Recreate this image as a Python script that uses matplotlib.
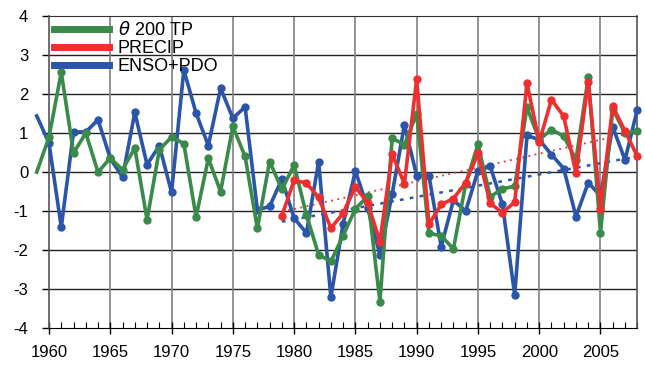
import numpy as np
import matplotlib.pyplot as plt
from matplotlib.ticker import MultipleLocator, FuncFormatter

plt.rcParams['font.family'] = ['Liberation Sans', 'DejaVu Sans']
plt.rcParams['axes.unicode_minus'] = False

years = np.arange(1959, 2009)

theta200 = [0.0, 0.90, 2.56, 0.49, 1.00, 0.0, 0.36, 0.06, 0.62, -1.22,
            0.57, 0.90, 0.73, -1.15, 0.35, -0.50, 1.17, 0.40, -1.44, 0.27,
            -0.44, 0.18, -1.09, -2.12, -2.29, -1.63, -0.94, -0.62, -3.32, 0.87,
            0.70, 1.50, -1.57, -1.63, -1.97, -0.30, 0.71, -0.63, -0.43, -0.36,
            1.66, 0.83, 1.09, 0.92, 0.32, 2.43, -1.55, 1.62, 0.99, 1.06]

enso_pdo = [1.44, 0.74, -1.41, 1.03, 1.03, 1.34, 0.35, -0.13, 1.53, 0.19,
            0.68, -0.52, 2.62, 1.51, 0.68, 2.15, 1.38, 1.67, -0.97, -0.88,
            -0.18, -1.18, -1.56, 0.26, -3.21, -1.32, 0.03, -0.92, -2.12, -0.56,
            1.21, -0.09, -0.09, -1.91, -0.72, -1.00, 0.03, 0.15, -0.83, -3.15,
            0.94, 0.83, 0.45, 0.09, -1.14, -0.27, -0.61, 1.16, 0.31, 1.60]

precip_years = np.arange(1979, 2009)
precip = [-1.12, -0.21, -0.28, -0.65, -1.44, -1.05, -0.38, -0.79, -1.78, 0.46,
          -0.30, 2.38, -1.34, -0.83, -0.68, -0.27, 0.48, -0.80, -1.04, -0.77,
          2.28, 0.77, 1.86, 1.43, -0.03, 2.32, -0.95, 1.69, 1.05, 0.41]

# linear trends 1979-2008 (end values)
trend_years = [1979, 2008]
precip_trend = [-1.02, 1.04]
enso_trend = [-1.27, 0.40]

green = '#3a8a4a'
red = '#ee2f2f'
blue = '#2a55a8'

fig = plt.figure(figsize=(6.45, 3.65), dpi=100)
ax = fig.add_axes([0.076, 0.101, 0.912, 0.855])

ax.set_xlim(1960, 2008)
ax.set_ylim(-4, 4)

# grid
for yv in range(-3, 4):
    ax.axhline(yv, color='#222222', lw=1.0, zorder=0)
for xv in range(1965, 2008, 5):
    ax.axvline(xv, color='#808080', lw=1.2, zorder=0)

ax.plot(trend_years, precip_trend, ls=(0, (1, 2.5)), color=red, lw=1.3, zorder=2)
ax.plot(trend_years, enso_trend, ls=(0, (1.5, 2.5)), color=blue, lw=1.8, zorder=2)

kw = dict(lw=2.6, marker='o', ms=5, clip_on=False, markevery=slice(1, None))
ax.plot(years, enso_pdo, color=blue, zorder=3, **kw)
ax.plot(years, theta200, color=green, zorder=4, **kw)
kw['markevery'] = None
ax.plot(precip_years, precip, color=red, zorder=5, **kw)

# legend
h1, = ax.plot([], [], color=green, lw=5)
h2, = ax.plot([], [], color=red, lw=5)
h3, = ax.plot([], [], color=blue, lw=5)
ax.legend([h1, h2, h3], [r'$\theta$ 200 TP', 'PRECIP', 'ENSO+PDO'],
          loc='upper left', frameon=False, fontsize=13, handlelength=3.0,
          handletextpad=0.5, labelspacing=0.05, borderaxespad=0.1,
          borderpad=0.2)

ax.xaxis.set_major_locator(MultipleLocator(5))
ax.xaxis.set_minor_locator(MultipleLocator(1))
ax.yaxis.set_major_locator(MultipleLocator(1))
ax.tick_params(axis='x', which='major', direction='inout', length=8, width=1, labelsize=12, pad=8)
ax.tick_params(axis='x', which='minor', direction='in', length=4, width=0.8)
ax.tick_params(axis='y', which='major', direction='out', length=5, width=1, labelsize=12, pad=10)
ax.yaxis.set_major_formatter(FuncFormatter(lambda v, p: '%d' % v))

for s in ['left', 'right']:
    ax.spines[s].set_color('#555555')
    ax.spines[s].set_linewidth(1.2)
ax.spines['top'].set_color('#333333')

fig.savefig('out.png', dpi=100)
